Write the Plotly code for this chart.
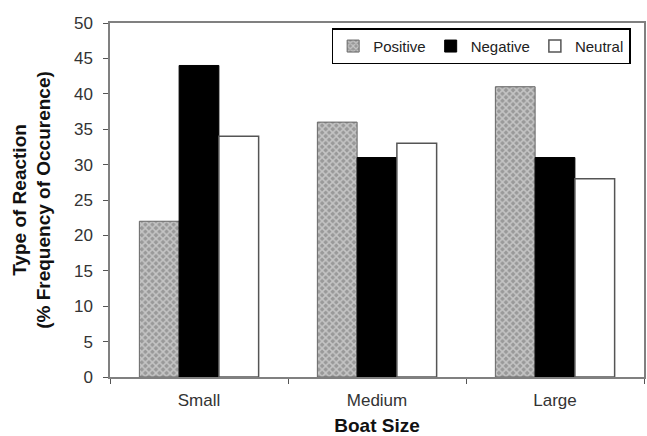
import plotly.graph_objects as go

categories = ["Small", "Medium", "Large"]
positive = [22, 36, 41]
negative = [44, 31, 31]
neutral = [34, 33, 28]
y_ticks = [0, 5, 10, 15, 20, 25, 30, 35, 40, 45, 50]

FONT = "Liberation Sans, Arial, sans-serif"

fig = go.Figure()
fig.add_trace(go.Bar(
    name="Positive", x=categories, y=positive,
    marker=dict(color="#a0a0a0",
                pattern=dict(shape="x", fgcolor="#f2f2f2", bgcolor="#999999",
                             size=5, solidity=0.5, fillmode="overlay"),
                line=dict(color="#666666", width=1)),
))
fig.add_trace(go.Bar(
    name="Negative", x=categories, y=negative,
    marker=dict(color="#000000", line=dict(color="#000000", width=1)),
))
fig.add_trace(go.Bar(
    name="Neutral", x=categories, y=neutral,
    marker=dict(color="#ffffff", line=dict(color="#555555", width=1.5)),
))

fig.update_layout(
    width=647, height=436,
    margin=dict(l=110, r=3, t=23, b=59),
    paper_bgcolor="white", plot_bgcolor="white",
    barmode="group", bargap=0.33, bargroupgap=0,
    font=dict(family=FONT, color="#333333", size=17),
    showlegend=True,
    legend=dict(
        orientation="h", x=0.975, xanchor="right", y=0.985, yanchor="top",
        bgcolor="white", bordercolor="#000000", borderwidth=1.5,
        font=dict(family=FONT, size=15, color="#222222"),
        itemwidth=30, tracegroupgap=0,
    ),
    xaxis=dict(
        automargin=False,
        showline=True, linecolor="#808080", linewidth=1.5, mirror=True,
        ticks="outside", ticklen=5, tickcolor="#555555", tickson="boundaries",
        tickfont=dict(size=17, color="#333333"), ticklabelstandoff=7,
        title=dict(text="<b>Boat Size</b>", font=dict(size=19, color="#111111"), standoff=12),
        showgrid=False, zeroline=False,
    ),
    yaxis=dict(
        automargin=False,
        range=[0, 50], tickvals=y_ticks,
        showline=True, linecolor="#808080", linewidth=1.5, mirror=True,
        ticks="outside", ticklen=5, tickcolor="#555555",
        tickfont=dict(size=17, color="#333333"), ticklabelstandoff=7,
        title=dict(text="<b>Type of Reaction<br>(% Frequency of Occurence)</b>",
                   font=dict(size=19, color="#111111"), standoff=18),
        showgrid=False, zeroline=False,
    ),
)

fig.write_html("out.html")
